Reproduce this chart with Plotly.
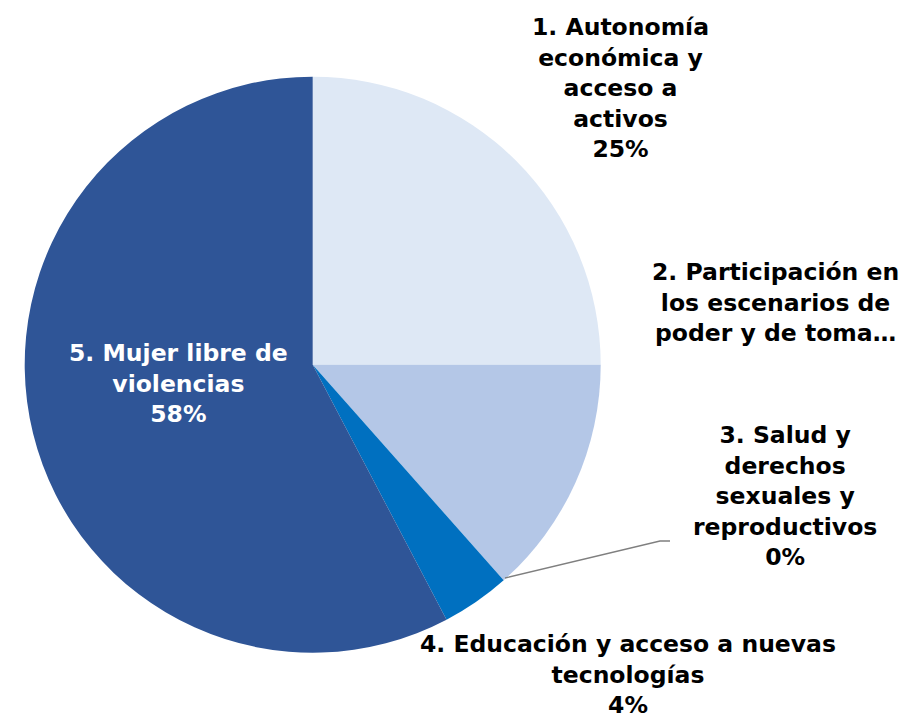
import plotly.graph_objects as go

W, H = 912, 718

labels = ["1. Autonomía económica y acceso a activos",
          "2. Participación en los escenarios de poder y de toma de decisiones",
          "3. Salud y derechos sexuales y reproductivos",
          "4. Educación y acceso a nuevas tecnologías",
          "5. Mujer libre de violencias"]
values = [13, 7, 0, 2, 30]
colors = ["#DEE8F5", "#B4C7E7", "#4472C4", "#0070C0", "#2F5597"]

label_display = [
    "1. Autonomía<br>económica y<br>acceso a<br>activos<br>25%",
    "2. Participación en<br>los escenarios de<br>poder y de toma…",
    "3. Salud y<br>derechos<br>sexuales y<br>reproductivos<br>0%",
    "4. Educación y acceso a nuevas<br>tecnologías<br>4%",
    "5. Mujer libre de<br>violencias<br>58%",
]
label_pos = [(620, 88), (775, 302), (785, 496), (628, 674), (178, 383)]
label_color = ["#000000", "#000000", "#000000", "#000000", "#FFFFFF"]

def px(x, y):
    return x / W, 1 - y / H

fig = go.Figure(go.Pie(
    labels=labels, values=values, sort=False, direction="clockwise", rotation=0,
    marker=dict(colors=colors, line=dict(width=0)),
    textinfo="none", hoverinfo="label+percent", showlegend=False,
    domain=dict(x=[24.7 / W, 600.7 / W], y=[1 - 652.7 / H, 1 - 76.7 / H]),
))

FONT = "DejaVu Sans"
for t, (x, y), c in zip(label_display, label_pos, label_color):
    ax, ay = px(x, y)
    fig.add_annotation(text="<b>" + t + "</b>", x=ax, y=ay, xref="paper", yref="paper",
                       showarrow=False, xanchor="center", yanchor="middle", align="center",
                       font=dict(family=FONT, size=23.5, color=c))

# leader line for slice 3
p0, p1, p2 = px(505, 578), px(660, 541), px(670, 541)
fig.add_shape(type="path", xref="paper", yref="paper",
              path=f"M {p0[0]},{p0[1]} L {p1[0]},{p1[1]} L {p2[0]},{p2[1]}",
              line=dict(color="#7F7F7F", width=1.3))

fig.update_layout(width=W, height=H, margin=dict(l=0, r=0, t=0, b=0),
                  paper_bgcolor="white", plot_bgcolor="white")
fig.write_html("out.html", config={"displayModeBar": False},
               post_script="document.body.style.margin='0';document.body.style.overflow='hidden';")
